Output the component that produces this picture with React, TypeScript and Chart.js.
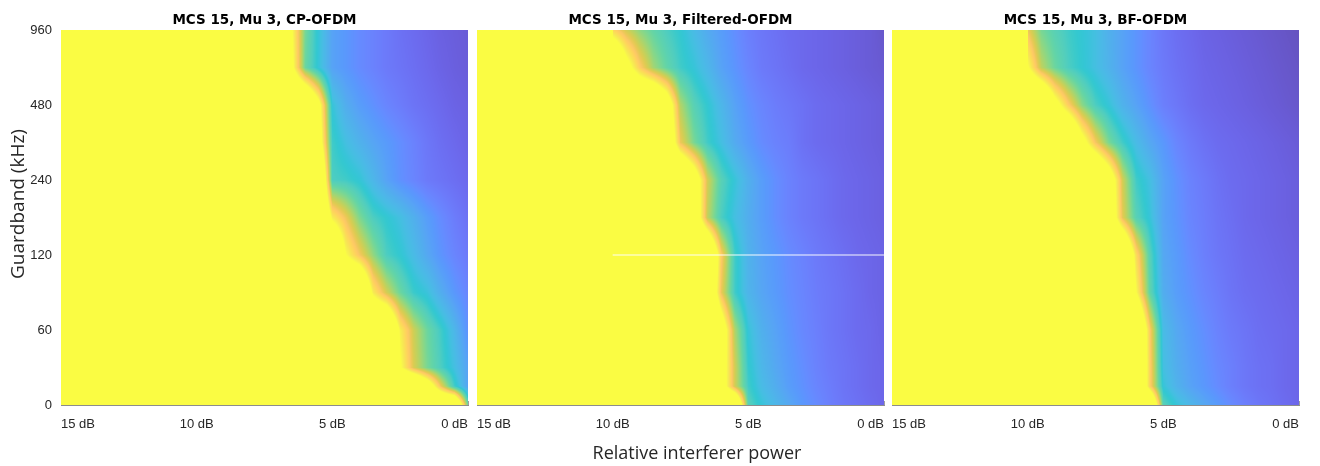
import React, { useEffect, useRef } from 'react';
import { Chart, registerables } from 'chart.js';

Chart.register(...registerables);

// ---------------- data ----------------
// Relative interferer power (dB) of the measured columns (left of 10 dB the surface is saturated)
const INTERFERER_DB = [10, 9.5, 9, 8.5, 8, 7.5, 7, 6.5, 6, 5.5, 5, 4.5, 4, 3.5, 3, 2.5, 2, 1.5, 1, 0.5, 0];
// Guard band rows (kHz), bottom to top
const GUARD_BAND_KHZ = [0, 15, 30, 60, 90, 120, 180, 240, 360, 480, 720, 960];
const Y_TICK_KHZ = [0, 60, 120, 240, 480, 960];
const X_TICK_DB = [0, 5, 10, 15];
const SATURATED = 1.5;

// normalised throughput, one row per guard band, columns follow INTERFERER_DB
const CP_OFDM = [
  [1.5, 1.5, 1.5, 1.5, 1.5, 1.5, 1.5, 1.5, 1.5, 1.5, 1.5, 1.5, 1.5, 1.5, 1.5, 1.5, 1.5, 1.5, 1.5, 1.5, 0.6],
  [1.5, 1.5, 1.5, 1.5, 1.5, 1.5, 1.5, 1.5, 1.5, 1.5, 1.5, 1.5, 1.5, 1.5, 1.5, 1.5, 1.5, 1.2, 0.8, 0.5, 0.3],
  [1.5, 1.5, 1.5, 1.5, 1.5, 1.5, 1.5, 1.5, 1.5, 1.5, 1.5, 1.5, 1.5, 1.5, 1.5, 1.02, 0.76, 0.62, 0.52, 0.42, 0.3],
  [1.5, 1.5, 1.5, 1.5, 1.5, 1.5, 1.5, 1.5, 1.5, 1.5, 1.5, 1.5, 1.5, 1.5, 1.5, 0.96, 0.74, 0.6, 0.5, 0.38, 0.24],
  [1.5, 1.5, 1.5, 1.5, 1.5, 1.5, 1.5, 1.5, 1.5, 1.5, 1.5, 1.5, 1.5, 0.95, 0.75, 0.6, 0.49, 0.44, 0.34, 0.26, 0.2],
  [1.5, 1.5, 1.5, 1.5, 1.5, 1.5, 1.5, 1.5, 1.5, 1.5, 1.5, 1.0, 0.82, 0.66, 0.52, 0.47, 0.4, 0.32, 0.25, 0.2, 0.16],
  [1.5, 1.5, 1.5, 1.5, 1.5, 1.5, 1.5, 1.5, 1.5, 1.5, 0.95, 0.8, 0.63, 0.52, 0.47, 0.42, 0.35, 0.28, 0.22, 0.17, 0.13],
  [1.5, 1.5, 1.5, 1.5, 1.5, 1.5, 1.5, 1.5, 1.5, 1.5, 0.52, 0.5, 0.46, 0.38, 0.3, 0.24, 0.2, 0.16, 0.14, 0.12, 0.1],
  [1.5, 1.5, 1.5, 1.5, 1.5, 1.5, 1.5, 1.5, 1.5, 1.15, 0.5, 0.42, 0.36, 0.31, 0.27, 0.23, 0.19, 0.15, 0.12, 0.1, 0.08],
  [1.5, 1.5, 1.5, 1.5, 1.5, 1.5, 1.5, 1.5, 1.5, 1.08, 0.45, 0.34, 0.28, 0.24, 0.2, 0.17, 0.14, 0.12, 0.1, 0.08, 0.07],
  [1.5, 1.5, 1.5, 1.5, 1.5, 1.5, 1.5, 1.06, 0.6, 0.45, 0.3, 0.26, 0.22, 0.19, 0.16, 0.14, 0.12, 0.1, 0.08, 0.065, 0.055],
  [1.5, 1.5, 1.5, 1.5, 1.5, 1.5, 1.5, 1.02, 0.62, 0.45, 0.3, 0.26, 0.22, 0.19, 0.16, 0.13, 0.11, 0.09, 0.07, 0.06, 0.05],
];

const FILTERED_OFDM = [
  [1.5, 1.5, 1.5, 1.5, 1.5, 1.5, 1.5, 1.5, 1.5, 1.5, 0.55, 0.45, 0.38, 0.32, 0.26, 0.22, 0.18, 0.15, 0.13, 0.11, 0.09],
  [1.5, 1.5, 1.5, 1.5, 1.5, 1.5, 1.5, 1.5, 1.15, 0.75, 0.5, 0.4, 0.34, 0.28, 0.24, 0.2, 0.17, 0.14, 0.12, 0.1, 0.09],
  [1.5, 1.5, 1.5, 1.5, 1.5, 1.5, 1.5, 1.5, 1.15, 0.75, 0.48, 0.38, 0.32, 0.27, 0.23, 0.19, 0.16, 0.14, 0.12, 0.1, 0.09],
  [1.5, 1.5, 1.5, 1.5, 1.5, 1.5, 1.5, 1.5, 1.2, 0.7, 0.45, 0.35, 0.3, 0.25, 0.21, 0.18, 0.15, 0.13, 0.11, 0.1, 0.08],
  [1.5, 1.5, 1.5, 1.5, 1.5, 1.5, 1.5, 1.4, 0.8, 0.5, 0.37, 0.31, 0.27, 0.23, 0.2, 0.17, 0.15, 0.13, 0.11, 0.09, 0.08],
  [1.5, 1.5, 1.5, 1.5, 1.5, 1.5, 1.5, 1.5, 0.85, 0.5, 0.36, 0.3, 0.26, 0.22, 0.19, 0.16, 0.14, 0.12, 0.1, 0.09, 0.08],
  [1.5, 1.5, 1.5, 1.5, 1.5, 1.5, 1.25, 0.72, 0.52, 0.42, 0.34, 0.28, 0.23, 0.19, 0.16, 0.14, 0.12, 0.1, 0.09, 0.08, 0.07],
  [1.5, 1.5, 1.5, 1.5, 1.5, 1.5, 1.2, 0.75, 0.55, 0.45, 0.35, 0.28, 0.23, 0.19, 0.16, 0.14, 0.12, 0.1, 0.09, 0.08, 0.07],
  [1.5, 1.5, 1.5, 1.5, 1.3, 0.8, 0.62, 0.5, 0.42, 0.33, 0.27, 0.22, 0.19, 0.17, 0.13, 0.11, 0.1, 0.09, 0.08, 0.07, 0.06],
  [1.5, 1.5, 1.5, 1.5, 1.2, 0.7, 0.55, 0.47, 0.38, 0.3, 0.24, 0.2, 0.17, 0.15, 0.13, 0.11, 0.1, 0.09, 0.08, 0.07, 0.06],
  [1.5, 1.1, 0.85, 0.68, 0.58, 0.5, 0.45, 0.38, 0.3, 0.25, 0.2, 0.16, 0.14, 0.12, 0.1, 0.09, 0.08, 0.07, 0.06, 0.05, 0.04],
  [0.88, 0.75, 0.65, 0.58, 0.52, 0.47, 0.4, 0.33, 0.28, 0.23, 0.18, 0.15, 0.13, 0.11, 0.1, 0.09, 0.08, 0.07, 0.06, 0.05, 0.03],
];

const BF_OFDM = [
  [1.5, 1.5, 1.5, 1.5, 1.5, 1.5, 1.5, 1.5, 1.5, 1.5, 0.55, 0.45, 0.38, 0.32, 0.27, 0.22, 0.18, 0.15, 0.13, 0.11, 0.09],
  [1.5, 1.5, 1.5, 1.5, 1.5, 1.5, 1.5, 1.5, 1.5, 0.87, 0.45, 0.36, 0.3, 0.26, 0.22, 0.18, 0.15, 0.13, 0.12, 0.1, 0.09],
  [1.5, 1.5, 1.5, 1.5, 1.5, 1.5, 1.5, 1.5, 1.5, 0.87, 0.42, 0.34, 0.29, 0.25, 0.21, 0.18, 0.15, 0.13, 0.12, 0.1, 0.09],
  [1.5, 1.5, 1.5, 1.5, 1.5, 1.5, 1.5, 1.5, 1.5, 0.85, 0.4, 0.32, 0.27, 0.23, 0.19, 0.16, 0.14, 0.12, 0.11, 0.1, 0.09],
  [1.5, 1.5, 1.5, 1.5, 1.5, 1.5, 1.5, 1.5, 1.0, 0.58, 0.34, 0.28, 0.24, 0.2, 0.17, 0.14, 0.12, 0.11, 0.1, 0.09, 0.08],
  [1.5, 1.5, 1.5, 1.5, 1.5, 1.5, 1.5, 1.5, 0.9, 0.55, 0.32, 0.27, 0.22, 0.18, 0.15, 0.13, 0.11, 0.1, 0.09, 0.08, 0.07],
  [1.5, 1.5, 1.5, 1.5, 1.5, 1.5, 1.25, 0.78, 0.55, 0.45, 0.3, 0.25, 0.2, 0.17, 0.14, 0.12, 0.1, 0.09, 0.08, 0.07, 0.06],
  [1.5, 1.5, 1.5, 1.5, 1.5, 1.5, 1.2, 0.75, 0.5, 0.42, 0.3, 0.24, 0.19, 0.16, 0.13, 0.11, 0.1, 0.09, 0.08, 0.07, 0.06],
  [1.5, 1.5, 1.5, 1.5, 1.1, 0.82, 0.62, 0.5, 0.4, 0.32, 0.26, 0.2, 0.16, 0.13, 0.11, 0.1, 0.09, 0.08, 0.07, 0.06, 0.05],
  [1.5, 1.5, 1.1, 0.85, 0.65, 0.52, 0.45, 0.36, 0.3, 0.24, 0.18, 0.15, 0.12, 0.1, 0.09, 0.08, 0.07, 0.06, 0.05, 0.04, 0.03],
  [1.02, 0.72, 0.6, 0.52, 0.47, 0.42, 0.36, 0.3, 0.25, 0.2, 0.16, 0.13, 0.11, 0.09, 0.08, 0.07, 0.06, 0.05, 0.04, 0.03, 0.02],
  [0.8, 0.62, 0.55, 0.5, 0.46, 0.42, 0.35, 0.3, 0.25, 0.2, 0.15, 0.12, 0.1, 0.08, 0.07, 0.06, 0.05, 0.04, 0.03, 0.02, 0.01],
];

// missing-sample seam in the Filtered-OFDM surface
const FILTERED_SEAM_KHZ = 120;
const FILTERED_SEAM_DB = [10, 0];

// ---------------- colormap (parula, face alpha 0.8 on white) ----------------
const PARULA = [
  [0.2422, 0.1504, 0.6603], [0.2504, 0.165, 0.7076], [0.2578, 0.1818, 0.7511], [0.2647, 0.1978, 0.7952],
  [0.2706, 0.2147, 0.8364], [0.2751, 0.2342, 0.871], [0.2783, 0.2559, 0.8991], [0.2803, 0.2782, 0.9221],
  [0.2813, 0.3006, 0.9414], [0.281, 0.3228, 0.9579], [0.2795, 0.3447, 0.9717], [0.276, 0.3667, 0.9829],
  [0.2699, 0.3892, 0.9906], [0.2602, 0.4123, 0.9952], [0.244, 0.4358, 0.9988], [0.2206, 0.4603, 0.9973],
  [0.1963, 0.4847, 0.9892], [0.1834, 0.5074, 0.9798], [0.1786, 0.5289, 0.9682], [0.1764, 0.5499, 0.952],
  [0.1687, 0.5703, 0.9359], [0.154, 0.5902, 0.9218], [0.146, 0.6091, 0.9079], [0.138, 0.6276, 0.8973],
  [0.1248, 0.6459, 0.8883], [0.1113, 0.6635, 0.8763], [0.0952, 0.6798, 0.8598], [0.0689, 0.6948, 0.8394],
  [0.0297, 0.7082, 0.8163], [0.0036, 0.7203, 0.7917], [0.0067, 0.7312, 0.766], [0.0433, 0.7411, 0.7394],
  [0.0964, 0.75, 0.712], [0.1408, 0.7584, 0.6842], [0.1717, 0.767, 0.6554], [0.1938, 0.7758, 0.6251],
  [0.2161, 0.7843, 0.5923], [0.247, 0.7918, 0.5567], [0.2906, 0.7973, 0.5188], [0.3406, 0.8008, 0.4789],
  [0.3909, 0.8029, 0.4354], [0.4456, 0.8024, 0.3909], [0.5044, 0.7993, 0.348], [0.5616, 0.7942, 0.3045],
  [0.6174, 0.7876, 0.2612], [0.672, 0.7793, 0.2227], [0.7242, 0.7698, 0.191], [0.7738, 0.7598, 0.1646],
  [0.8203, 0.7498, 0.1535], [0.8634, 0.7406, 0.1596], [0.9035, 0.733, 0.1774], [0.9393, 0.7288, 0.21],
  [0.9728, 0.7298, 0.2394], [0.9956, 0.7434, 0.2371], [0.997, 0.7659, 0.2199], [0.9952, 0.7893, 0.2028],
  [0.9892, 0.8136, 0.1885], [0.9786, 0.8386, 0.1766], [0.9676, 0.8639, 0.1643], [0.961, 0.889, 0.1537],
  [0.9597, 0.9135, 0.1423], [0.9628, 0.9373, 0.1265], [0.9691, 0.9606, 0.1064], [0.9769, 0.9839, 0.0805],
];
const ALPHA = 0.8;
const LUT_N = 512;
const LUT: number[][] = (() => {
  const out: number[][] = [];
  for (let i = 0; i < LUT_N; i++) {
    const t = (i / (LUT_N - 1)) * (PARULA.length - 1);
    const k = Math.min(Math.floor(t), PARULA.length - 2);
    const f = t - k;
    const c = [0, 1, 2].map((j) => PARULA[k][j] * (1 - f) + PARULA[k + 1][j] * f);
    out.push(c.map((v) => Math.round(255 * (v * ALPHA + (1 - ALPHA)))));
  }
  return out;
})();

function colorOf(v: number) {
  const t = Math.max(0, Math.min(1, v));
  return LUT[Math.round(t * (LUT_N - 1))];
}

// guard band (kHz) -> position on the evenly spaced tick axis
function kHzToPos(k: number) {
  for (let i = 0; i < Y_TICK_KHZ.length - 1; i++) {
    if (k <= Y_TICK_KHZ[i + 1]) return i + (k - Y_TICK_KHZ[i]) / (Y_TICK_KHZ[i + 1] - Y_TICK_KHZ[i]);
  }
  return Y_TICK_KHZ.length - 1;
}

function makeHeatmap(grid: number[][]) {
  return {
    id: 'heatmap',
    beforeDatasetsDraw(chart: any) {
      const { ctx, chartArea, scales } = chart;
      const x0 = Math.round(chartArea.left);
      const y0 = Math.round(chartArea.top);
      const w = Math.round(chartArea.right) - x0;
      const h = Math.round(chartArea.bottom) - y0;
      const img = ctx.createImageData(w, h);
      const rowPos = GUARD_BAND_KHZ.map(kHzToPos);
      const nC = INTERFERER_DB.length;
      const colF = new Float64Array(w);
      for (let px = 0; px < w; px++) {
        const db = scales.x.getValueForPixel(x0 + px + 0.5);
        if (db >= INTERFERER_DB[0]) { colF[px] = -1; continue; }
        let k = 0;
        while (k < nC - 2 && db < INTERFERER_DB[k + 1]) k++;
        const f = (INTERFERER_DB[k] - db) / (INTERFERER_DB[k] - INTERFERER_DB[k + 1]);
        colF[px] = k + Math.max(0, Math.min(1, f));
      }
      for (let py = 0; py < h; py++) {
        const pos = scales.y.getValueForPixel(y0 + py + 0.5);
        let r = 0;
        while (r < rowPos.length - 2 && pos > rowPos[r + 1]) r++;
        const ty = Math.max(0, Math.min(1, (pos - rowPos[r]) / (rowPos[r + 1] - rowPos[r])));
        const ra = grid[r];
        const rb = grid[r + 1];
        for (let px = 0; px < w; px++) {
          let v: number;
          const cf = colF[px];
          if (cf < 0) v = SATURATED;
          else {
            let k = Math.floor(cf);
            if (k > nC - 2) k = nC - 2;
            const tx = cf - k;
            const a = ra[k] * (1 - tx) + ra[k + 1] * tx;
            const b = rb[k] * (1 - tx) + rb[k + 1] * tx;
            v = a * (1 - ty) + b * ty;
          }
          const c = colorOf(v);
          const o = (py * w + px) * 4;
          img.data[o] = c[0];
          img.data[o + 1] = c[1];
          img.data[o + 2] = c[2];
          img.data[o + 3] = 255;
        }
      }
      ctx.putImageData(img, x0, y0);
    },
  };
}

// ---------------- layout ----------------
const FONT = '"Liberation Sans", Arial, Helvetica, sans-serif';
const TITLE_FONT = '"DejaVu Sans", Verdana, sans-serif';
const LABEL_FONT = '"Open Sans", "Noto Sans", sans-serif';
const PLOT_TOP = 30;
const PLOT_BOTTOM = 405;
const CANVAS_H = 440;
const INNER_TICK = 4;

type PanelCfg = {
  title: string;
  grid: number[][];
  left: number;
  right: number;
  yLabels: boolean;
  seam: boolean;
};

const PANELS: PanelCfg[] = [
  { title: 'MCS 15, Mu 3, CP-OFDM', grid: CP_OFDM, left: 61, right: 468, yLabels: true, seam: false },
  { title: 'MCS 15, Mu 3, Filtered-OFDM', grid: FILTERED_OFDM, left: 477, right: 884, yLabels: false, seam: true },
  { title: 'MCS 15, Mu 3, BF-OFDM', grid: BF_OFDM, left: 892, right: 1299, yLabels: false, seam: false },
];

function Panel({ cfg }: { cfg: PanelCfg }) {
  const ref = useRef<HTMLCanvasElement>(null);
  const yW = cfg.yLabels ? cfg.left : 7;
  const padR = 4;
  const canvasLeft = cfg.left - yW;
  const canvasW = yW + (cfg.right - cfg.left) + padR;

  useEffect(() => {
    const seamY = kHzToPos(FILTERED_SEAM_KHZ);
    const datasets: any[] = cfg.seam
      ? [{
          data: FILTERED_SEAM_DB.map((x) => ({ x, y: seamY })),
          showLine: true,
          borderColor: 'rgba(255,255,255,0.95)',
          borderWidth: 1,
          pointRadius: 0,
        }]
      : [];
    const tickGrid = {
      display: true,
      drawOnChartArea: false,
      drawTicks: true,
      tickLength: -INNER_TICK,
      color: 'rgba(120,120,120,0.7)',
      lineWidth: 1,
    };
    const chart = new Chart(ref.current as HTMLCanvasElement, {
      type: 'scatter',
      data: { datasets },
      plugins: [makeHeatmap(cfg.grid)],
      options: {
        animation: false,
        responsive: false,
        devicePixelRatio: 1,
        layout: { padding: { left: 0, right: padR, top: PLOT_TOP, bottom: 0 } },
        plugins: { legend: { display: false }, tooltip: { enabled: false }, title: { display: false } },
        scales: {
          x: {
            type: 'linear',
            reverse: true,
            min: 0,
            max: 15,
            afterFit: (s: any) => { s.height = CANVAS_H - PLOT_BOTTOM; },
            afterBuildTicks: (s: any) => { s.ticks = X_TICK_DB.map((v) => ({ value: v })); },
            ticks: {
              align: 'inner',
              padding: 12 + INNER_TICK,
              color: '#262626',
              font: { family: FONT, size: 13 },
              maxRotation: 0,
              autoSkip: false,
              callback: (v: any) => `${v} dB`,
            },
            grid: tickGrid,
            border: { display: true, color: '#8c8c8c', width: 1 },
          },
          y: {
            type: 'linear',
            min: 0,
            max: Y_TICK_KHZ.length - 1,
            afterFit: (s: any) => { s.width = yW; },
            afterBuildTicks: (s: any) => { s.ticks = Y_TICK_KHZ.map((_, i) => ({ value: i })); },
            ticks: {
              display: cfg.yLabels,
              padding: 9 + INNER_TICK,
              color: '#262626',
              font: { family: FONT, size: 13 },
              autoSkip: false,
              callback: (v: any) => String(Y_TICK_KHZ[Math.round(v)]),
            },
            grid: tickGrid,
            border: { display: true, color: '#8c8c8c', width: 1 },
          },
        },
      } as any,
    });
    return () => chart.destroy();
  }, []);

  return (
    <>
      <canvas
        ref={ref}
        width={canvasW}
        height={CANVAS_H}
        style={{ position: 'absolute', left: canvasLeft, top: 0, width: canvasW, height: CANVAS_H }}
      />
      <div
        style={{
          position: 'absolute',
          left: cfg.left,
          width: cfg.right - cfg.left,
          top: 10,
          textAlign: 'center',
          fontFamily: TITLE_FONT,
          fontWeight: 'bold',
          fontSize: 13.5,
          lineHeight: '18px',
          color: '#000',
          whiteSpace: 'nowrap',
        }}
      >
        {cfg.title}
      </div>
    </>
  );
}

export default function App() {
  useEffect(() => {
    document.body.style.margin = '0';
  }, []);
  return (
    <div style={{ position: 'absolute', left: 0, top: 0, width: 1320, height: 466, background: '#fff', overflow: 'hidden' }}>
      {PANELS.map((p) => (
        <Panel key={p.title} cfg={p} />
      ))}
      <div
        style={{
          position: 'absolute',
          left: 497,
          width: 400,
          top: 440,
          textAlign: 'center',
          fontFamily: LABEL_FONT,
          fontSize: 18,
          lineHeight: '24px',
          color: '#262626',
          whiteSpace: 'nowrap',
        }}
      >
        Relative interferer power
      </div>
      <div
        style={{
          position: 'absolute',
          left: 17 - 100,
          top: 204 - 12,
          width: 200,
          height: 24,
          transform: 'rotate(-90deg)',
          transformOrigin: '100px 12px',
          textAlign: 'center',
          fontFamily: LABEL_FONT,
          fontSize: 19,
          lineHeight: '24px',
          color: '#262626',
          whiteSpace: 'nowrap',
        }}
      >
        Guardband (kHz)
      </div>
    </div>
  );
}
